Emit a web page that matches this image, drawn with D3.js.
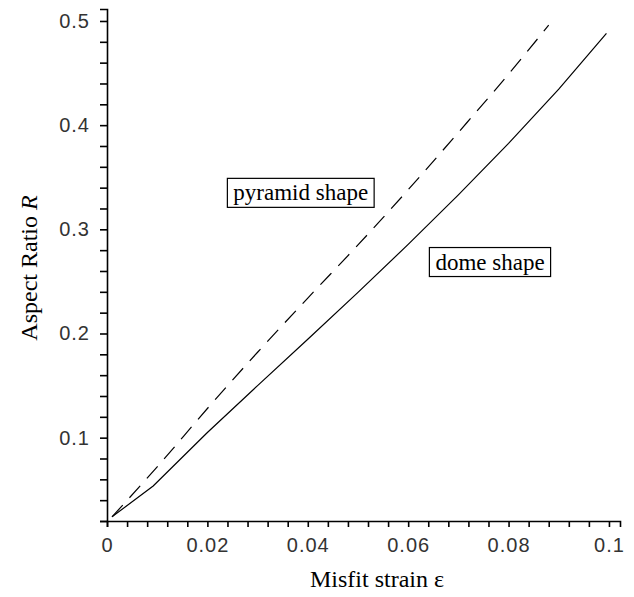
<!DOCTYPE html>
<html lang="en">
<head>
    <meta charset="UTF-8">
    <title>Aspect ratio vs misfit strain</title>
    <style>
        body {
            margin: 0;
            background: #ffffff;
        }
        svg {
            display: block;
        }
        .axis path, .axis line {
            stroke: #000;
            stroke-width: 1.6px;
        }
        .axis text {
            font-family: 'Liberation Sans', sans-serif;
            font-size: 20px;
            letter-spacing: 1px;
            fill: #333;
        }
        .curve {
            fill: none;
            stroke: #000;
            stroke-width: 1.2px;
        }
        .title {
            font-family: 'Liberation Serif', 'Times New Roman', serif;
            font-size: 24px;
            fill: #000;
        }
        .note {
            font-family: 'Liberation Serif', 'Times New Roman', serif;
            font-size: 23px;
            fill: #000;
        }
    </style>
</head>
<body>
    <script src="https://d3js.org/d3.v7.min.js"></script>
    <script>
        // dome shape (solid) curve
        const domeStrain = [0.001, 0.0092, 0.02, 0.03, 0.04, 0.05, 0.06, 0.07, 0.08, 0.09, 0.0995];
        const domeRatio  = [0.024, 0.0536, 0.105, 0.150, 0.1945, 0.2395, 0.2855, 0.333, 0.3825, 0.4345, 0.488];

        // pyramid shape (dashed) curve
        const pyramidStrain = [0.001, 0.01, 0.02, 0.03, 0.04, 0.05, 0.06, 0.07, 0.08, 0.088];
        const pyramidRatio  = [0.024, 0.072, 0.128, 0.182, 0.234, 0.285, 0.338, 0.393, 0.449, 0.496];

        // ticks
        const xMajorTicks = [0, 0.02, 0.04, 0.06, 0.08, 0.1];
        const xTickLabels = ["0", "0.02", "0.04", "0.06", "0.08", "0.1"];
        const yMajorTicks = [0.1, 0.2, 0.3, 0.4, 0.5];
        const yTickLabels = ["0.1", "0.2", "0.3", "0.4", "0.5"];

        // in-plot labels (centre of each box, in data units)
        const noteTexts = ["pyramid shape", "dome shape"];
        const noteStrain = [0.0386, 0.0763];
        const noteRatio  = [0.335, 0.2686];

        const width = 634, height = 597;

        const svg = d3.select("body").append("svg")
            .attr("width", width)
            .attr("height", height);

        const x = d3.scaleLinear().domain([0, 0.1022]).range([107, 620]);
        const y = d3.scaleLinear().domain([0.02, 0.5115]).range([521, 9]);

        // minor ticks every 0.004 on x and 0.02 on y
        const xTicks = d3.range(0, 25.5).map(i => +(i * 0.004).toFixed(4));
        const yTicks = d3.range(1, 25.5).map(i => +(i * 0.02).toFixed(3));

        const fmtX = v => {
            const k = xMajorTicks.findIndex(m => Math.abs(m - v) < 1e-9);
            return k < 0 ? "" : xTickLabels[k];
        };
        const fmtY = v => {
            const k = yMajorTicks.findIndex(m => Math.abs(m - v) < 1e-9);
            return k < 0 ? "" : yTickLabels[k];
        };

        svg.append("g")
            .attr("class", "axis")
            .attr("transform", `translate(0,${y(0.02)})`)
            .call(d3.axisBottom(x).tickValues(xTicks).tickFormat(fmtX).tickSize(6).tickPadding(7))
            .selectAll("text").attr("dy", "0.9em");

        svg.append("g")
            .attr("class", "axis")
            .attr("transform", `translate(${x(0)},0)`)
            .call(d3.axisLeft(y).tickValues(yTicks).tickFormat(fmtY).tickSize(7).tickPadding(10));

        const line = d3.line()
            .x(d => x(d[0]))
            .y(d => y(d[1]))
            .curve(d3.curveMonotoneX);

        svg.append("path")
            .datum(d3.zip(pyramidStrain, pyramidRatio))
            .attr("class", "curve")
            .attr("stroke-dasharray", "16,10")
            .attr("d", line);

        // keep the little kink near 0.01 on the dome curve
        svg.append("path")
            .datum(d3.zip(domeStrain, domeRatio))
            .attr("class", "curve")
            .attr("d", line.curve(d3.curveLinear));

        // boxed labels
        noteTexts.forEach((t, i) => {
            const g = svg.append("g");
            const txt = g.append("text")
                .attr("class", "note")
                .attr("x", x(noteStrain[i]))
                .attr("y", y(noteRatio[i]))
                .attr("text-anchor", "middle")
                .attr("dominant-baseline", "central")
                .text(t);
            const b = txt.node().getBBox();
            g.insert("rect", "text")
                .attr("x", b.x - 6)
                .attr("y", b.y - 2)
                .attr("width", b.width + 12)
                .attr("height", b.height + 4)
                .attr("fill", "#fff")
                .attr("stroke", "#000")
                .attr("stroke-width", 1.2);
        });

        // axis titles
        svg.append("text")
            .attr("class", "title")
            .attr("x", 377)
            .attr("y", 587)
            .attr("text-anchor", "middle")
            .text("Misfit strain ε");

        const yt = svg.append("text")
            .attr("class", "title")
            .attr("transform", "translate(37,268) rotate(-90)")
            .attr("text-anchor", "middle");
        yt.append("tspan").text("Aspect Ratio ");
        yt.append("tspan").attr("font-style", "italic").text("R");
    </script>
</body>
</html>
